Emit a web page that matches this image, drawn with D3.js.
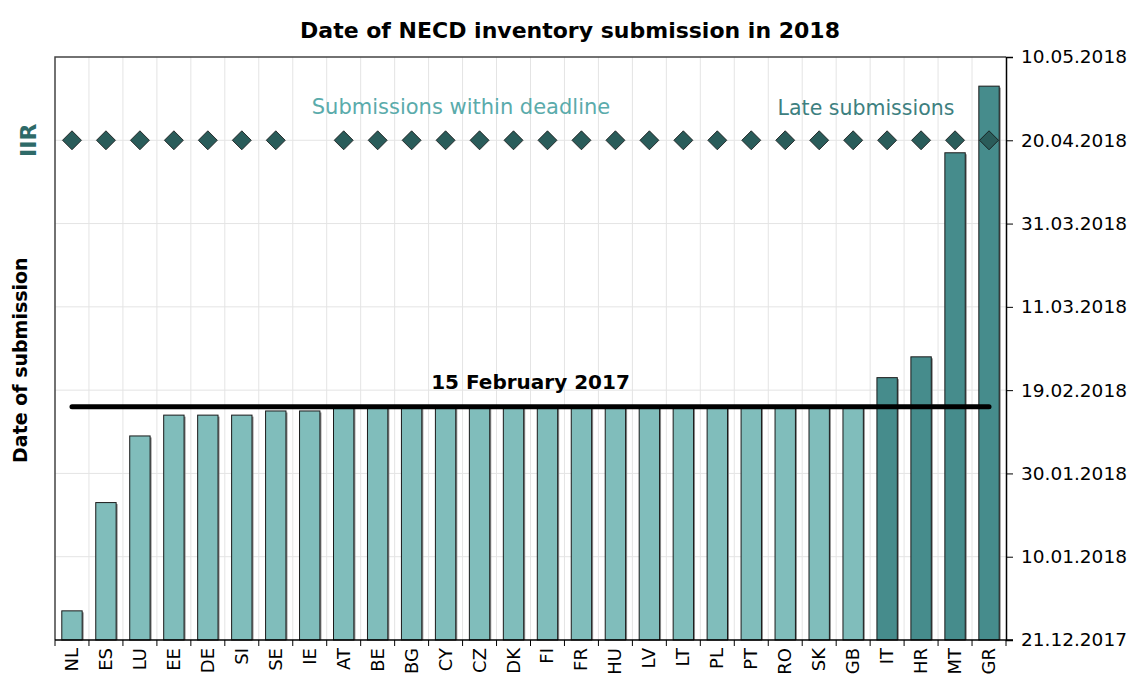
<!DOCTYPE html>
<html>
<head>
<meta charset="utf-8">
<script src="https://cdn.jsdelivr.net/npm/d3@7"></script>
<style>
  body { margin: 0; background: #fff; }
  svg { font-family: "DejaVu Sans", sans-serif; }
</style>
</head>
<body>
<div id="chart"></div>
<script>
// NECD inventory submission dates 2018
const countries = ["NL","ES","LU","EE","DE","SI","SE","IE","AT","BE","BG","CY","CZ","DK","FI","FR","HU","LV","LT","PL","PT","RO","SK","GB","IT","HR","MT","GR"];
const submissionDates = ["2017-12-28","2018-01-23","2018-02-08","2018-02-13","2018-02-13","2018-02-13","2018-02-14","2018-02-14",
  "2018-02-15","2018-02-15","2018-02-15","2018-02-15","2018-02-15","2018-02-15","2018-02-15","2018-02-15","2018-02-15","2018-02-15",
  "2018-02-15","2018-02-15","2018-02-15","2018-02-15","2018-02-15","2018-02-15","2018-02-22","2018-02-27","2018-04-17","2018-05-03"];
const lateFlags = [0,0,0,0,0,0,0,0,0,0,0,0,0,0,0,0,0,0,0,0,0,0,0,0,1,1,1,1];
const iirDates = ["2018-04-20","2018-04-20","2018-04-20","2018-04-20","2018-04-20","2018-04-20","2018-04-20",null,
  "2018-04-20","2018-04-20","2018-04-20","2018-04-20","2018-04-20","2018-04-20","2018-04-20","2018-04-20","2018-04-20","2018-04-20",
  "2018-04-20","2018-04-20","2018-04-20","2018-04-20","2018-04-20","2018-04-20","2018-04-20","2018-04-20","2018-04-20","2018-04-20"];
const tickDates = ["2017-12-21","2018-01-10","2018-01-30","2018-02-19","2018-03-11","2018-03-31","2018-04-20","2018-05-10"];
const deadline = "2018-02-15";

const parse = d3.timeParse("%Y-%m-%d");
const fmt = d3.timeFormat("%d.%m.%Y");

const width = 1133, height = 680;
const m = { left: 55, right: 127, top: 57, bottom: 40 };
const iw = width - m.left - m.right, ih = height - m.top - m.bottom;

const svg = d3.select("#chart").append("svg")
  .attr("width", width).attr("height", height);

const x = d3.scaleBand().domain(countries).range([m.left, m.left + iw]).paddingInner(0.4).paddingOuter(0.2);
const xb = d3.scaleBand().domain(countries).range([m.left, m.left + iw]);
const y = d3.scaleTime().domain([parse(tickDates[0]), parse(tickDates[tickDates.length - 1])])
  .range([m.top + ih, m.top]);

// grid
const grid = svg.append("g");
grid.selectAll("line.h").data(tickDates.slice(1, -1)).join("line")
  .attr("x1", m.left).attr("x2", m.left + iw)
  .attr("y1", d => y(parse(d))).attr("y2", d => y(parse(d)))
  .attr("stroke", "#e4e4e4").attr("stroke-width", 1);
grid.selectAll("line.v").data(countries.slice(1)).join("line")
  .attr("x1", d => xb(d)).attr("x2", d => xb(d))
  .attr("y1", m.top).attr("y2", m.top + ih)
  .attr("stroke", "#e4e4e4").attr("stroke-width", 1);

// frame top + left
svg.append("path")
  .attr("d", `M${m.left},${m.top + ih}V${m.top}H${m.left + iw}`)
  .attr("fill", "none").attr("stroke", "#444").attr("stroke-width", 1.5);

const data = countries.map((c, i) => ({ c, d: parse(submissionDates[i]), late: lateFlags[i], iir: iirDates[i] ? parse(iirDates[i]) : null }));

// bar shadows
svg.append("g").selectAll("rect").data(data).join("rect")
  .attr("x", d => x(d.c) + 1.5).attr("y", d => y(d.d) + 1.5)
  .attr("width", x.bandwidth()).attr("height", d => y.range()[0] - y(d.d) - 1.5)
  .attr("fill", "#8a8a8a");

svg.append("g").selectAll("rect").data(data).join("rect")
  .attr("x", d => x(d.c)).attr("y", d => y(d.d))
  .attr("width", x.bandwidth()).attr("height", d => y.range()[0] - y(d.d))
  .attr("fill", d => d.late ? "#468c8c" : "#80bdbb")
  .attr("stroke", "#1a1a1a").attr("stroke-width", 1);

// deadline line
const yd = y(parse(deadline));
svg.append("line")
  .attr("x1", x(countries[0]) + x.bandwidth() / 2)
  .attr("x2", x(countries[countries.length - 1]) + x.bandwidth() / 2)
  .attr("y1", yd).attr("y2", yd)
  .attr("stroke", "#000").attr("stroke-width", 5).attr("stroke-linecap", "round");
svg.append("text")
  .attr("x", m.left + iw / 2).attr("y", yd - 18)
  .attr("text-anchor", "middle").attr("font-size", 20).attr("font-weight", "bold")
  .text("15 February 2017");

// IIR diamonds
const diamond = d3.symbolDiamond2 || d3.symbolDiamond;
svg.append("g").selectAll("path").data(data.filter(d => d.iir)).join("path")
  .attr("d", d3.symbol(diamond, 230))
  .attr("transform", d => `translate(${x(d.c) + x.bandwidth() / 2},${y(d.iir)})`)
  .attr("fill", "#2a5c5a").attr("stroke", "#111").attr("stroke-width", 0.8);

// bottom axis
const xAxis = svg.append("g").attr("transform", `translate(0,${m.top + ih})`);
xAxis.append("line").attr("x1", m.left).attr("x2", m.left + iw + 7).attr("stroke", "#000").attr("stroke-width", 1.5);
xAxis.selectAll("line.t").data(countries.concat(["_end"])).join("line")
  .attr("x1", (d, i) => i < countries.length ? xb(d) : m.left + iw)
  .attr("x2", (d, i) => i < countries.length ? xb(d) : m.left + iw)
  .attr("y1", 0).attr("y2", 6).attr("stroke", "#000").attr("stroke-width", 1);
xAxis.selectAll("text").data(countries).join("text")
  .attr("transform", d => `translate(${xb(d) + xb.bandwidth() / 2 + 6},8) rotate(-90)`)
  .attr("text-anchor", "end").attr("font-size", 18)
  .text(d => d);

// right axis
const yAxis = svg.append("g").attr("transform", `translate(${m.left + iw},0)`)
  .call(d3.axisRight(y).tickValues(tickDates.map(parse)).tickFormat(fmt).tickSize(7).tickPadding(8));
yAxis.select(".domain").attr("stroke-width", 1.5);
yAxis.selectAll("text").attr("font-size", 18.5).attr("font-family", "DejaVu Sans, sans-serif").attr("fill", "#000");

// title & labels
svg.append("text").attr("x", 570).attr("y", 38).attr("text-anchor", "middle")
  .attr("font-size", 22).attr("font-weight", "bold").text("Date of NECD inventory submission in 2018");
svg.append("text").attr("transform", `translate(27,${m.top + ih * 0.52}) rotate(-90)`)
  .attr("text-anchor", "middle").attr("font-size", 19).attr("font-weight", "bold")
  .text("Date of submission");
svg.append("text").attr("transform", `translate(36,${y(parse("2018-04-20"))}) rotate(-90)`)
  .attr("text-anchor", "middle").attr("font-size", 22).attr("font-weight", "bold").attr("fill", "#2e6a68")
  .text("IIR");
svg.append("text").attr("x", 461).attr("y", 114)
  .attr("text-anchor", "middle").attr("font-size", 21).attr("fill", "#5aabab")
  .text("Submissions within deadline");
svg.append("text").attr("x", 866).attr("y", 115)
  .attr("text-anchor", "middle").attr("font-size", 20.5).attr("fill", "#3d8080")
  .text("Late submissions");
</script>
</body>
</html>
